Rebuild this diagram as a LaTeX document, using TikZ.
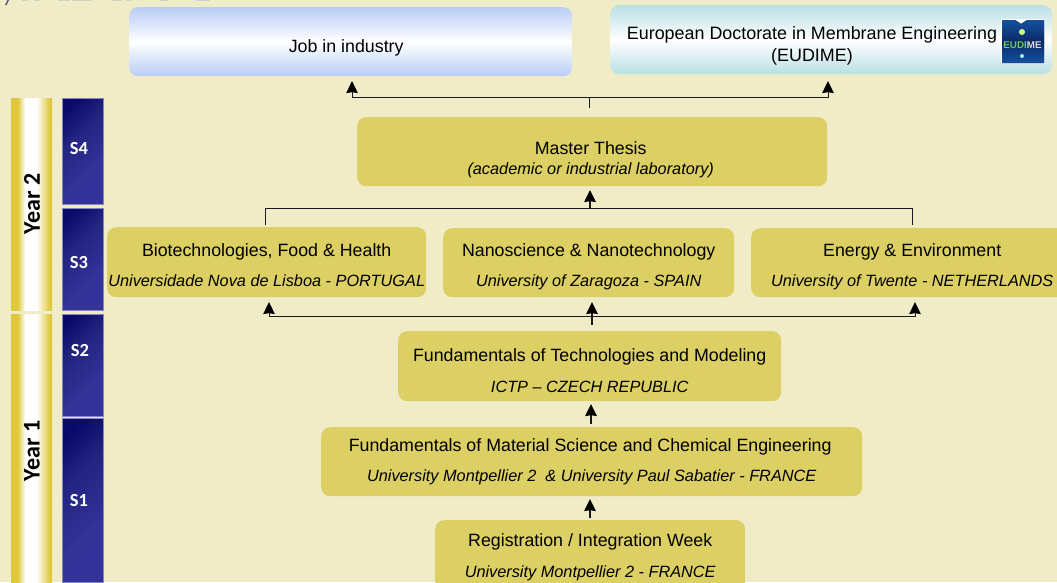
\documentclass[tikz,border=0pt]{standalone}
\usepackage{fontspec}
\setmainfont{Liberation Sans}
\newfontfamily\carlito{Carlito}
\usetikzlibrary{arrows.meta}
\definecolor{bgc}{HTML}{F1ECC8}
\definecolor{goldbox}{HTML}{DCCF63}
\definecolor{goldedge}{HTML}{E0C83C}
\definecolor{navyA}{HTML}{0A0A6A}
\definecolor{navyB}{HTML}{333399}
\definecolor{navyM}{HTML}{242482}
\definecolor{skyb}{HTML}{B8CCF5}
\definecolor{tealb}{HTML}{B9DFE4}
\definecolor{linec}{HTML}{1A1A1A}
\definecolor{logoA}{HTML}{14509E}
\definecolor{logoB}{HTML}{0B2A66}
\pgfdeclarehorizontalshading{goldbar}{100bp}{color(0bp)=(goldedge); color(25bp)=(goldedge); color(33bp)=(goldedge); color(42bp)=(white); color(56bp)=(white); color(72bp)=(goldedge); color(75bp)=(goldedge); color(100bp)=(goldedge)}
\pgfdeclarehorizontalshading{navybar}{100bp}{color(0bp)=(navyA); color(22bp)=(navyA); color(40bp)=(navyM); color(65bp)=(navyB); color(100bp)=(navyB)}
\newcommand{\subfont}{\fontsize{16.3}{19}\selectfont\itshape}
\newcommand{\down}[1]{\rule{0pt}{#1pt}}
\newcommand{\up}[1]{\rule[-#1pt]{0pt}{#1pt}}
\tikzset{
  x=1pt,y=-1pt,
  sized/.style 2 args={minimum width=#1pt,minimum height=#2pt},
  box/.style={draw=none,fill=goldbox,rounded corners=9pt,inner sep=0pt,align=center,anchor=north west,font=\fontsize{17.8}{21}\selectfont},
  topbox/.style={draw=none,rounded corners=9pt,inner sep=0pt,anchor=north west},
  yearbar/.style={draw=none,inner sep=0pt,anchor=north west,shading=goldbar,minimum width=41pt},
  sembar/.style={draw=navyB!60!white,line width=.4pt,inner sep=0pt,anchor=north west,minimum width=41pt,shading=navybar,shading angle=-45},
  semlab/.style={text=white,inner sep=0pt,font=\carlito\bfseries\fontsize{18.5}{22}\selectfont},
  yearlab/.style={rotate=90,inner sep=0pt,font=\carlito\bfseries\fontsize{24}{28}\selectfont},
  conn/.style={draw=linec,line width=1pt},
  arr/.style={conn,-{Stealth[length=12pt,width=11.5pt,inset=.8pt,color=black]}},
  vert/.style={line width=1.6pt},
}
\begin{document}
\begin{tikzpicture}
\clip (0,0) rectangle (1057,582);
\useasboundingbox (0,0) rectangle (1057,582);
\fill[bgc] (0,0) rectangle (1057,582);
% fragments of a cropped line at the top edge
\fill[blue!35!black!70!white] (5,5) -- (6.5,5) -- (9,0) -- (7.5,0) -- cycle;
\foreach \a/\b in {22/28,34/40,58/70,72/92,112/122,126/132,160/168,196/210}
  \fill[blue!30!gray!20!bgc] (\a,0) rectangle (\b,.7);
% bars
\node[yearbar,minimum height=212pt] (y2bar) at (11,98) {};
\node[yearbar,minimum height=268pt] (y1bar) at (11,314) {};
\node[yearlab] (y2) at (32,204) {Year 2};
\node[yearlab] (y1) at (32,451) {Year 1};
\node[sembar,minimum height=106pt] (s4) at (62,98) {};
\node[sembar,minimum height=102pt] (s3) at (62,208) {};
\node[sembar,minimum height=102pt] (s2) at (62,314) {};
\node[sembar,minimum height=164pt] (s1) at (62,418) {};
\node[semlab] (s4t) at (79,148) {S4};
\node[semlab] (s3t) at (79,262) {S3};
\node[semlab] (s2t) at (80,350) {S2};
\node[semlab] (s1t) at (79,500) {S1};
% top boxes
\node[topbox,sized={443}{69},top color=skyb,bottom color=skyb,middle color=white,font=\fontsize{17.8}{21}\selectfont] (job) at (129,7) {\down{26}\hspace*{-9pt}Job in industry};
\node[topbox,sized={442}{69},top color=tealb,bottom color=tealb,middle color=white] (eu) at (610,5) {};
\node[inner sep=0pt,align=center,font=\fontsize{17.9}{22}\selectfont] (eut) at (812,45.5) {European Doctorate in Membrane Engineering\\(EUDIME)};
% logo
\fill[white] (1000.5,18.5) rectangle (1045,64);
\fill[top color=logoA,bottom color=logoA,middle color=logoB] (1002,20) -- (1015,20) -- (1021,24) -- (1027,20) -- (1044,20) -- (1044,63) -- (1002,63) -- cycle;
\fill[green!40!yellow!50!white] (1022,32) circle (3pt);
\fill[cyan!30!white] (1022,56) circle (2pt);
\node[inner sep=0pt,font=\bfseries\fontsize{9.8}{11}\selectfont] (logo) at (1022.5,45) {\textcolor{green!45!gray!80!white}{EUDI}\textcolor{black!15}{ME}};
% process boxes
\node[box,sized={470}{69}] (master) at (357,117) {\hspace*{-3pt}\down{29}Master Thesis\\[-1pt]{\subfont\hspace*{-3pt}(academic or industrial laboratory)}};
\node[box,sized={319}{70}] (bio) at (107,227) {\down{19}Biotechnologies, Food \& Health\\[9pt]{\subfont Universidade Nova de Lisboa - PORTUGAL}};
\node[box,sized={291}{69}] (nano) at (443,228) {\down{20}Nanoscience \& Nanotechnology\\[9pt]{\subfont University of Zaragoza - SPAIN}};
\node[box,sized={322}{69}] (energy) at (751,228) {\down{20}Energy \& Environment\\[9pt]{\subfont University of Twente - NETHERLANDS}};
\node[box,sized={383}{70}] (ftm) at (398,331) {\down{22}Fundamentals of Technologies and Modeling\\[10pt]{\subfont ICTP – CZECH REPUBLIC}};
\node[box,sized={541}{69}] (fms) at (321,427) {\hspace*{-3pt}Fundamentals of Material Science and Chemical Engineering\\[9pt]{\subfont\up{4}University Montpellier 2 ~\& University Paul Sabatier - FRANCE}};
\node[box,sized={310}{70}] (reg) at (435,520) {\down{17}Registration / Integration Week\\[10pt]{\subfont University Montpellier 2 - FRANCE}};
% connectors
\coordinate (a1) at (589,108); \coordinate (a2) at (589,97);
\coordinate (a3) at (352,97); \coordinate (a4) at (828,97);
\coordinate (a5) at (352,81); \coordinate (a6) at (828,81);
\draw[conn] (a1) -- (a2);
\draw[arr] (a2) -- (a3) -- (a5);
\draw[arr] (a2) -- (a4) -- (a6);
\coordinate (b0) at (590,208); \coordinate (b1) at (590,190);
\coordinate (b2) at (265,208); \coordinate (b3) at (912,208);
\coordinate (b4) at (265,225); \coordinate (b5) at (912,225);
\draw[arr,vert] (b0) -- (b1);
\draw[conn] (b4) -- (b2) -- (b3) -- (b5);
\coordinate (c0) at (592,325); \coordinate (c1) at (592,302);
\coordinate (c2) at (269,316); \coordinate (c3) at (915,316);
\coordinate (c4) at (269,302); \coordinate (c5) at (915,302);
\draw[arr,vert] (c0) -- (c1);
\draw[arr] (c3) -- (c2) -- (c4);
\draw[arr] (c2) -- (c3) -- (c5);
\coordinate (d0) at (591,424); \coordinate (d1) at (591,404);
\coordinate (e0) at (590,518); \coordinate (e1) at (590,499);
\draw[arr,vert] (d0) -- (d1);
\draw[arr,vert] (e0) -- (e1);
\end{tikzpicture}
\end{document}
